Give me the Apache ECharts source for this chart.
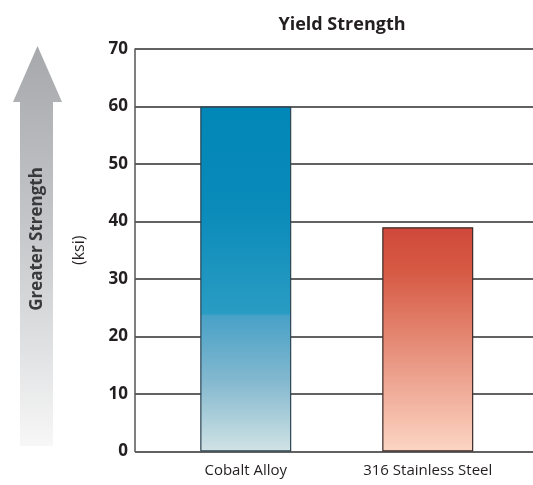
<!DOCTYPE html>
<html>
<head>
<meta charset="utf-8">
<script src="https://cdn.jsdelivr.net/npm/echarts@6/dist/echarts.min.js"></script>
<style>
  html, body { margin: 0; padding: 0; background: #fff; }
  #chart { width: 533px; height: 485px; }
</style>
</head>
<body>
<div id="chart"></div>
<script>
// Yield strength of two implant materials, in ksi
const categories = ['Cobalt Alloy', '316 Stainless Steel'];
const yieldKsi = [60, 39];
const yTicks = [0, 10, 20, 30, 40, 50, 60, 70];

const FONT = '"Open Sans", Lato, sans-serif';
const TEXT = '#231f20';

// Blue fades with a soft step part-way down; red fades smoothly
const barFills = [
  new echarts.graphic.LinearGradient(0, 0, 0, 1, [
    { offset: 0, color: '#0187b7' },
    { offset: 0.3, color: '#0a8bba' },
    { offset: 0.6, color: '#2a9cc3' },
    { offset: 0.607, color: '#48a1c7' },
    { offset: 0.8, color: '#85b9cf' },
    { offset: 1, color: '#d0e3e5' }
  ]),
  new echarts.graphic.LinearGradient(0, 0, 0, 1, [
    { offset: 0, color: '#d0483a' },
    { offset: 0.2, color: '#d65a44' },
    { offset: 1, color: '#fcd5c3' }
  ])
];
const barBorders = ['#2c4452', '#3b2a27'];

const chart = echarts.init(document.getElementById('chart'), null, { renderer: 'canvas' });

chart.setOption({
  animation: false,
  title: {
    text: 'Yield Strength',
    left: 337,
    top: 11,
    textAlign: 'center',
    textStyle: { fontFamily: FONT, fontWeight: 'bold', fontSize: 18, color: TEXT }
  },
  grid: [
    // frame, gridlines and value labels
    { left: 135, right: 0, top: 49, bottom: 33.5 },
    // bars, slightly inset from the left axis
    { left: 154.75, width: 364, top: 49, bottom: 33.5 }
  ],
  xAxis: [
    { type: 'category', gridIndex: 0, data: categories, show: false },
    {
      type: 'category', gridIndex: 1, data: categories,
      axisLine: { show: false }, axisTick: { show: false },
      axisLabel: { fontFamily: FONT, fontSize: 15, color: TEXT, margin: 12 }
    }
  ],
  yAxis: [
    {
      type: 'value', gridIndex: 0, min: yTicks[0], max: yTicks[yTicks.length - 1], interval: 10,
      name: '(ksi)', nameLocation: 'middle', nameRotate: 90, nameGap: 48,
      nameTextStyle: { fontFamily: FONT, fontSize: 16, color: TEXT },
      axisLine: { show: true, lineStyle: { color: '#555', width: 1.5 } },
      axisTick: { show: false },
      axisLabel: { fontFamily: FONT, fontWeight: 'bold', fontSize: 17, color: TEXT, margin: 7 },
      splitLine: { show: true, lineStyle: { color: '#2e2e2e', width: 1.5 } }
    },
    {
      type: 'value', gridIndex: 1, min: yTicks[0], max: yTicks[yTicks.length - 1], interval: 10,
      show: false, splitLine: { show: false }
    }
  ],
  series: [{
    type: 'bar',
    xAxisIndex: 1,
    yAxisIndex: 1,
    barWidth: 91,
    data: yieldKsi.map((v, i) => ({
      value: v,
      itemStyle: { color: barFills[i], borderColor: barBorders[i], borderWidth: 1.2 }
    }))
  }],
  graphic: [
    {
      // upward arrow on the left
      type: 'polygon',
      shape: { points: [[37.5, 46], [62, 102], [53, 102], [53, 446], [20, 446], [20, 102], [13, 102]] },
      style: {
        fill: new echarts.graphic.LinearGradient(0, 0, 0, 1, [
          { offset: 0, color: '#a6a8ab' },
          { offset: 0.45, color: '#c4c6c9' },
          { offset: 1, color: '#f7f7f7' }
        ])
      }
    },
    {
      type: 'text',
      x: 37, y: 239,
      rotation: Math.PI / 2,
      style: {
        text: 'Greater Strength',
        fontFamily: FONT, fontWeight: 'bold', fontSize: 17,
        fill: '#3a3a3c', align: 'center', verticalAlign: 'middle'
      }
    }
  ]
});
</script>
</body>
</html>
